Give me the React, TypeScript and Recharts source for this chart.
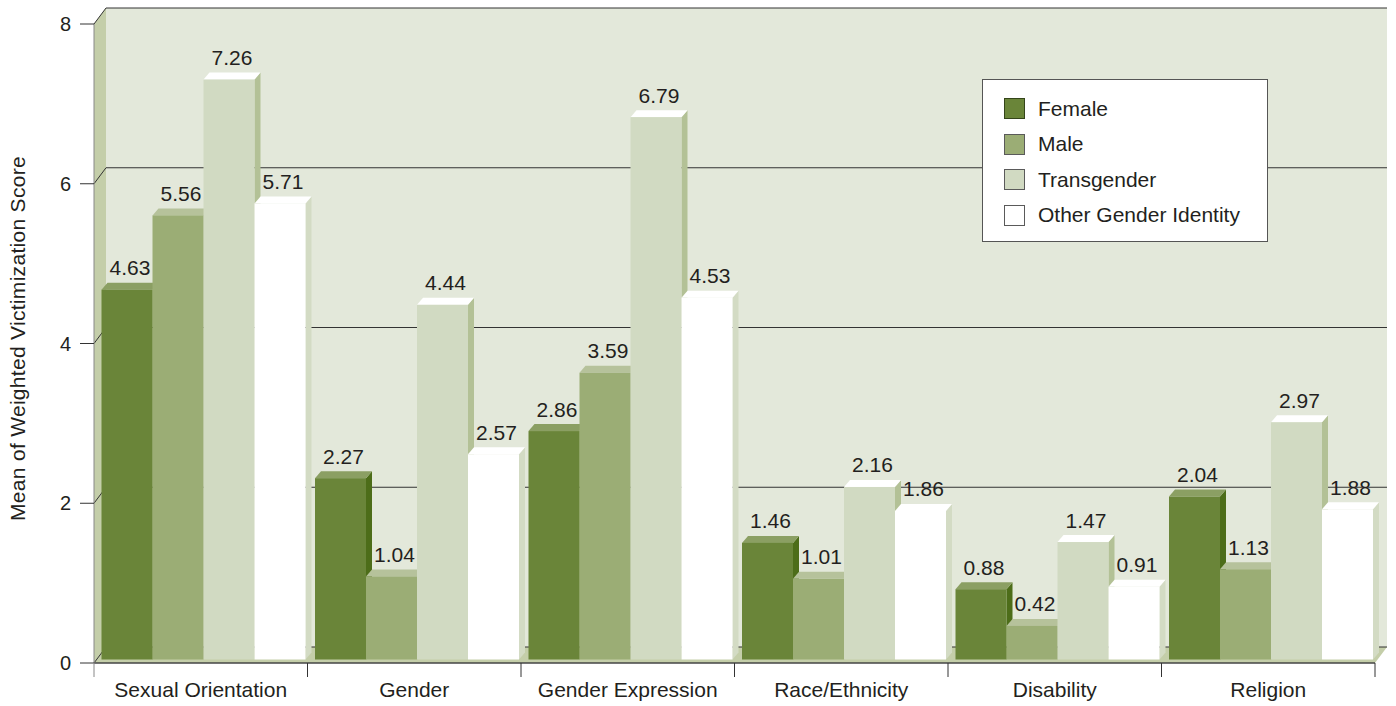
import React from 'react';
import {
  BarChart,
  Bar,
  XAxis,
  YAxis,
  CartesianGrid,
  Legend,
  LabelList,
  ReferenceArea,
} from 'recharts';

const categories = [
  'Sexual Orientation',
  'Gender',
  'Gender Expression',
  'Race/Ethnicity',
  'Disability',
  'Religion',
];
const femaleScores = [4.63, 2.27, 2.86, 1.46, 0.88, 2.04];
const maleScores = [5.56, 1.04, 3.59, 1.01, 0.42, 1.13];
const transgenderScores = [7.26, 4.44, 6.79, 2.16, 1.47, 2.97];
const otherScores = [5.71, 2.57, 4.53, 1.86, 0.91, 1.88];
const yTicks = [0, 2, 4, 6, 8];

const data = categories.map((category, i) => ({
  category,
  female: femaleScores[i],
  male: maleScores[i],
  transgender: transgenderScores[i],
  other: otherScores[i],
}));

const FONT = '"Liberation Sans", Arial, Helvetica, sans-serif';
const TEXT = '#231f20';
const LINE = '#333333';

// depth of the back wall behind the front plane
const WALL_DX = 12;
const WALL_DY = 16;
// depth of a single bar
const BAR_DX = 6;
const BAR_DY = 7;
// bars stand a little behind the front edge of the floor
const SINK_X = 2.5;
const SINK_Y = 3.5;

const series = [
  { key: 'female', name: 'Female', front: '#6a8539', top: '#8b9f63', side: '#4d6d19', border: '#34451a' },
  { key: 'male', name: 'Male', front: '#9bad75', top: '#b6c29b', side: '#7f9458', border: '#5a5a5a' },
  { key: 'transgender', name: 'Transgender', front: '#d1dac2', top: '#ffffff', side: '#b3c196', border: '#5a5a5a' },
  { key: 'other', name: 'Other Gender Identity', front: '#ffffff', top: '#ffffff', side: '#d3dbc4', border: '#5a5a5a' },
];

const bar3d = (topColor: string, sideColor: string) => (props: any) => {
  const x = Number(props.x);
  const y = Number(props.y);
  const width = Number(props.width);
  const height = Number(props.height);
  if (!height || height <= 0) return <g />;
  const fx = x + SINK_X;
  const fy = y - SINK_Y;
  const r = fx + width;
  return (
    <g>
      <polygon
        points={`${r},${fy} ${r + BAR_DX},${fy - BAR_DY} ${r + BAR_DX},${fy + height - BAR_DY} ${r},${fy + height}`}
        fill={sideColor}
      />
      <polygon
        points={`${fx},${fy} ${fx + BAR_DX},${fy - BAR_DY} ${r + BAR_DX},${fy - BAR_DY} ${r},${fy}`}
        fill={topColor}
      />
      <rect x={fx} y={fy} width={width} height={height} fill={props.fill} />
    </g>
  );
};

// back wall, left wall and floor of the box
const renderWalls = (props: any) => {
  const { x, y, width, height } = props;
  const b = y + height;
  return (
    <g>
      <rect x={x + WALL_DX} y={y - WALL_DY} width={width} height={height} fill="#e3e8da" />
      <polygon
        points={`${x},${y} ${x + WALL_DX},${y - WALL_DY} ${x + WALL_DX},${b - WALL_DY} ${x},${b}`}
        fill="#c4cea9"
      />
      <polygon
        points={`${x},${b} ${x + WALL_DX},${b - WALL_DY} ${x + width + WALL_DX},${b - WALL_DY} ${x + width},${b}`}
        fill="#c4cea9"
      />
    </g>
  );
};

const renderGridLine = (props: any) => {
  const { x1, y1, x2 } = props;
  return (
    <path
      key={`grid-${y1}`}
      d={`M${x1},${y1} L${x1 + WALL_DX},${y1 - WALL_DY} L${x2 + WALL_DX},${y1 - WALL_DY}`}
      stroke={LINE}
      strokeWidth={1}
      fill="none"
    />
  );
};

const CategoryTick = (props: any) => {
  const { x, y, payload, index } = props;
  const half = payload && payload.offset ? payload.offset : (1396 - 94 - 21) / categories.length / 2;
  const last = index === categories.length - 1;
  return (
    <g>
      <line
        x1={x - half}
        y1={y}
        x2={x - half}
        y2={y + 14}
        stroke={index === 0 ? '#888888' : LINE}
        strokeWidth={1}
      />
      {last && <line x1={x + half} y1={y} x2={x + half} y2={y + 14} stroke={LINE} strokeWidth={1} />}
      <text x={x} y={y + 34} textAnchor="middle" fontSize={21} fontFamily={FONT} fill={TEXT}>
        {payload.value}
      </text>
    </g>
  );
};

const YAxisTitle = (props: any) => {
  const vb = props.viewBox || { x: 0, y: 24, height: 639 };
  const cx = vb.x + 25;
  const cy = vb.y + vb.height / 2 - 5;
  return (
    <text
      x={cx}
      y={cy}
      transform={`rotate(-90, ${cx}, ${cy})`}
      textAnchor="middle"
      fontSize={21}
      letterSpacing={0.3}
      fontFamily={FONT}
      fill={TEXT}
    >
      Mean of Weighted Victimization Score
    </text>
  );
};

const renderValueLabel = (props: any) => {
  const x = Number(props.x);
  const y = Number(props.y);
  const width = Number(props.width);
  return (
    <text
      x={x + SINK_X + (width + BAR_DX) / 2}
      y={y - SINK_Y - BAR_DY - 7.5}
      textAnchor="middle"
      fontSize={21}
      fontFamily={FONT}
      fill={TEXT}
    >
      {Number(props.value).toFixed(2)}
    </text>
  );
};

const renderLegend = (props: any) => {
  const payload: any[] = props.payload || [];
  // keep the series order, not the alphabetical one
  const entries = series
    .map((s) => ({ s, entry: payload.find((p) => p.value === s.name) }))
    .filter((item) => item.entry);
  return (
    <div
      style={{
        width: 286,
        height: 163,
        boxSizing: 'border-box',
        background: '#ffffff',
        border: '1px solid #555555',
        paddingTop: 11,
      }}
    >
      {entries.map(({ s, entry }) => (
        <div key={s.key} style={{ display: 'flex', alignItems: 'center', height: 35.5 }}>
          <span
            style={{
              display: 'inline-block',
              width: 21,
              height: 21,
              boxSizing: 'border-box',
              background: entry.color,
              border: `1px solid ${s.border}`,
              marginLeft: 21,
              marginRight: 13,
            }}
          />
          <span style={{ fontFamily: FONT, fontSize: 21, color: TEXT, lineHeight: '24px' }}>
            {entry.value}
          </span>
        </div>
      ))}
    </div>
  );
};

const App: React.FC = () => {
  return (
    <div style={{ position: 'absolute', left: 0, top: 0, width: 1396, height: 706, background: '#ffffff' }}>
      <BarChart
        width={1396}
        height={706}
        data={data}
        margin={{ top: 24, right: 21, bottom: 0, left: 0 }}
        barGap={0}
        barSize={51}
      >
        <ReferenceArea y1={0} y2={8} shape={renderWalls} ifOverflow="visible" zIndex={-200} />
        <CartesianGrid vertical={false} horizontal={renderGridLine} zIndex={-100} />
        <XAxis
          dataKey="category"
          height={43}
          interval={0}
          tickSize={0}
          tickMargin={0}
          axisLine={{ stroke: '#444444', strokeWidth: 1.5 }}
          tick={<CategoryTick />}
        />
        <YAxis
          type="number"
          domain={[0, 8]}
          ticks={yTicks}
          width={94}
          tickSize={14}
          tickMargin={9}
          axisLine={{ stroke: '#888888' }}
          tickLine={{ stroke: LINE }}
          tick={{ fontSize: 20, fill: TEXT, fontFamily: FONT }}
          label={<YAxisTitle />}
        />
        <Legend
          layout="vertical"
          align="center"
          verticalAlign="middle"
          content={renderLegend}
          wrapperStyle={{ left: 982, top: 79, width: 286, height: 163 }}
        />
        {series.map((s) => (
          <Bar
            key={s.key}
            dataKey={s.key}
            name={s.name}
            fill={s.front}
            shape={bar3d(s.top, s.side)}
            isAnimationActive={false}
          >
            <LabelList dataKey={s.key} content={renderValueLabel} />
          </Bar>
        ))}
      </BarChart>
    </div>
  );
};

export default App;
